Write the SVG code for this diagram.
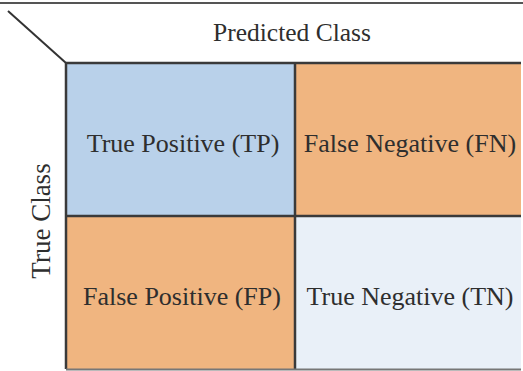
<svg xmlns="http://www.w3.org/2000/svg" width="523" height="371" viewBox="0 0 523 371">
<style>
text{font-family:'Liberation Serif','Times New Roman','DejaVu Serif',serif;fill:#2e2e2e;text-anchor:middle}
.lbl{font-size:26px}
.head{font-size:25.5px}
.side{font-size:27px}
.grid{stroke:#3a3a3a;stroke-width:2.5;fill:none}
</style>
<rect x="0" y="0" width="523" height="371" fill="#ffffff"/>
<line x1="0" y1="3" x2="523" y2="3" stroke="#555" stroke-width="2"/>
<g id="header">
<line x1="8" y1="11" x2="66" y2="63" stroke="#333" stroke-width="2"/>
<text class="head" x="292" y="41">Predicted Class</text>
<text class="side" transform="translate(50,221) rotate(-90)" x="0" y="0">True Class</text>
</g>
<g id="tp">
<rect x="66" y="63" width="229" height="153" fill="#b9d1ea"/>
<text class="lbl" x="183" y="152">True Positive (TP)</text>
</g>
<g id="fn">
<rect x="295" y="63" width="226" height="153" fill="#f0b580"/>
<text class="lbl" x="410" y="152">False Negative (FN)</text>
</g>
<g id="fp">
<rect x="66" y="216" width="229" height="153" fill="#f0b580"/>
<text class="lbl" x="182" y="305">False Positive (FP)</text>
</g>
<g id="tn">
<rect x="295" y="216" width="226" height="153" fill="#e9f0f8"/>
<text class="lbl" x="410" y="305">True Negative (TN)</text>
</g>
<g id="connectors">
<path class="grid" d="M66 63 H521 M66 63 V369 M295 63 V369 M66 216 H521"/>
<line x1="66" y1="369.5" x2="521" y2="369.5" stroke="#777" stroke-width="2"/>
</g>
</svg>
